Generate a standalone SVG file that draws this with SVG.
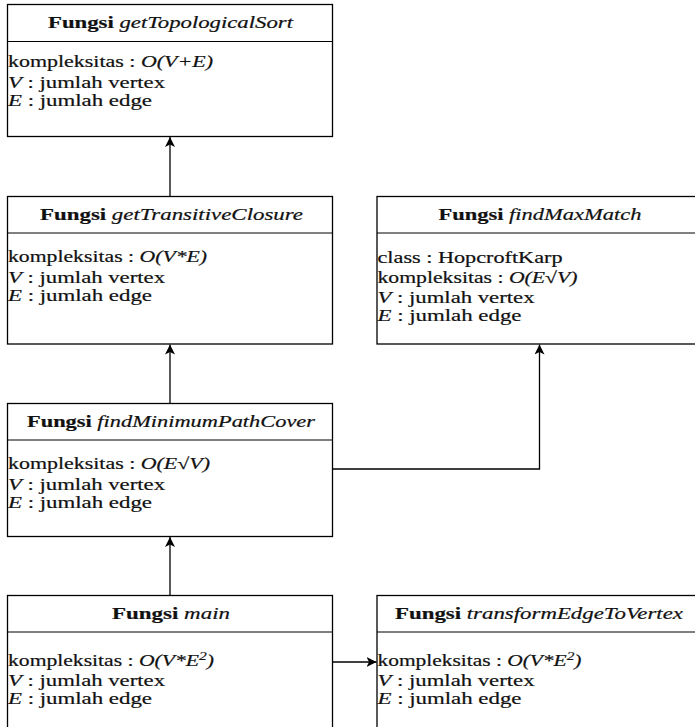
<svg xmlns="http://www.w3.org/2000/svg" width="695" height="727" viewBox="0 0 695 727">
  <style>
    .box { fill: #ffffff; stroke: #000000; stroke-width: 1.3; }
    .sep { stroke: #000000; stroke-width: 1; }
    .txt { font-family: "Liberation Serif", "DejaVu Serif", serif; font-size: 16px; fill: #111111; stroke: #111111; stroke-width: 0.2; }
    .hd { text-anchor: middle; font-size: 16.5px; }
    .b { font-weight: bold; }
    .i { font-style: italic; }
    .sup { font-size: 11.5px; }
    .edge { fill: none; stroke: #000000; stroke-width: 1.3; }
  </style>
  <defs>
    <marker id="arrow" viewBox="0 0 10 10" refX="10" refY="5" markerWidth="10" markerHeight="10" markerUnits="userSpaceOnUse" orient="auto">
      <path d="M0,0 L10,5 L0,10 L2.5,5 Z" fill="#000000"/>
    </marker>
  </defs>

  <rect width="695" height="727" fill="#ffffff"/>

  <g id="connectors">
    <path class="edge" d="M170,196.5 L170,137" marker-end="url(#arrow)"/>
    <path class="edge" d="M170,403.5 L170,344.5" marker-end="url(#arrow)"/>
    <path class="edge" d="M170,595.5 L170,537" marker-end="url(#arrow)"/>
    <path class="edge" d="M332.5,469 L539.5,469 L539.5,344.5" marker-end="url(#arrow)"/>
    <path class="edge" d="M332.5,662 L376.5,662" marker-end="url(#arrow)"/>
  </g>

  <g id="getTopologicalSort">
    <rect class="box" x="7.5" y="4.5" width="325" height="132"/>
    <line class="sep" x1="7.5" y1="41.5" x2="332.5" y2="41.5"/>
    <text class="txt hd" x="170.5" y="28" textLength="245" lengthAdjust="spacingAndGlyphs"><tspan class="b">Fungsi</tspan> <tspan class="i">getTopologicalSort</tspan></text>
    <text class="txt" x="8" y="67" textLength="205" lengthAdjust="spacingAndGlyphs">kompleksitas : <tspan class="i">O(V+E)</tspan></text>
    <text class="txt" x="8" y="87.5" textLength="157" lengthAdjust="spacingAndGlyphs"><tspan class="i">V</tspan> : jumlah vertex</text>
    <text class="txt" x="8" y="105.5" textLength="144" lengthAdjust="spacingAndGlyphs"><tspan class="i">E</tspan> : jumlah edge</text>
  </g>

  <g id="getTransitiveClosure">
    <rect class="box" x="7.5" y="196.5" width="325" height="147.5"/>
    <line class="sep" x1="7.5" y1="233" x2="332.5" y2="233"/>
    <text class="txt hd" x="171.5" y="220" textLength="263" lengthAdjust="spacingAndGlyphs"><tspan class="b">Fungsi</tspan> <tspan class="i">getTransitiveClosure</tspan></text>
    <text class="txt" x="8" y="261.5" textLength="199" lengthAdjust="spacingAndGlyphs">kompleksitas : <tspan class="i">O(V*E)</tspan></text>
    <text class="txt" x="8" y="282.5" textLength="157" lengthAdjust="spacingAndGlyphs"><tspan class="i">V</tspan> : jumlah vertex</text>
    <text class="txt" x="8" y="300.5" textLength="144" lengthAdjust="spacingAndGlyphs"><tspan class="i">E</tspan> : jumlah edge</text>
  </g>

  <g id="findMaxMatch">
    <rect class="box" x="377" y="196.5" width="325" height="147.5"/>
    <line class="sep" x1="377" y1="233" x2="702" y2="233"/>
    <text class="txt hd" x="540" y="220" textLength="203" lengthAdjust="spacingAndGlyphs"><tspan class="b">Fungsi</tspan> <tspan class="i">findMaxMatch</tspan></text>
    <text class="txt" x="377.5" y="262.5" textLength="185" lengthAdjust="spacingAndGlyphs">class : HopcroftKarp</text>
    <text class="txt" x="377.5" y="283" textLength="200" lengthAdjust="spacingAndGlyphs">kompleksitas : <tspan class="i">O(E√V)</tspan></text>
    <text class="txt" x="377.5" y="302.5" textLength="157" lengthAdjust="spacingAndGlyphs"><tspan class="i">V</tspan> : jumlah vertex</text>
    <text class="txt" x="377.5" y="320.5" textLength="144" lengthAdjust="spacingAndGlyphs"><tspan class="i">E</tspan> : jumlah edge</text>
  </g>

  <g id="findMinimumPathCover">
    <rect class="box" x="7.5" y="403.5" width="325" height="133"/>
    <line class="sep" x1="7.5" y1="440" x2="332.5" y2="440"/>
    <text class="txt hd" x="171" y="427" textLength="288" lengthAdjust="spacingAndGlyphs"><tspan class="b">Fungsi</tspan> <tspan class="i">findMinimumPathCover</tspan></text>
    <text class="txt" x="8" y="468.5" textLength="202" lengthAdjust="spacingAndGlyphs">kompleksitas : <tspan class="i">O(E√V)</tspan></text>
    <text class="txt" x="8" y="489.5" textLength="157" lengthAdjust="spacingAndGlyphs"><tspan class="i">V</tspan> : jumlah vertex</text>
    <text class="txt" x="8" y="507.5" textLength="144" lengthAdjust="spacingAndGlyphs"><tspan class="i">E</tspan> : jumlah edge</text>
  </g>

  <g id="main">
    <rect class="box" x="7.5" y="595.5" width="325" height="140"/>
    <line class="sep" x1="7.5" y1="632" x2="332.5" y2="632"/>
    <text class="txt hd" x="171" y="619" textLength="118" lengthAdjust="spacingAndGlyphs"><tspan class="b">Fungsi</tspan> <tspan class="i">main</tspan></text>
    <text class="txt" x="8" y="666" textLength="206" lengthAdjust="spacingAndGlyphs">kompleksitas : <tspan class="i">O(V*E<tspan class="sup" dy="-6">2</tspan><tspan dy="6">)</tspan></tspan></text>
    <text class="txt" x="8" y="686" textLength="157" lengthAdjust="spacingAndGlyphs"><tspan class="i">V</tspan> : jumlah vertex</text>
    <text class="txt" x="8" y="704" textLength="144" lengthAdjust="spacingAndGlyphs"><tspan class="i">E</tspan> : jumlah edge</text>
  </g>

  <g id="transformEdgeToVertex">
    <rect class="box" x="377" y="595.5" width="325" height="140"/>
    <line class="sep" x1="377" y1="632" x2="702" y2="632"/>
    <text class="txt hd" x="539" y="619" textLength="288" lengthAdjust="spacingAndGlyphs"><tspan class="b">Fungsi</tspan> <tspan class="i">transformEdgeToVertex</tspan></text>
    <text class="txt" x="377.5" y="666" textLength="204" lengthAdjust="spacingAndGlyphs">kompleksitas : <tspan class="i">O(V*E<tspan class="sup" dy="-6">2</tspan><tspan dy="6">)</tspan></tspan></text>
    <text class="txt" x="377.5" y="686" textLength="157" lengthAdjust="spacingAndGlyphs"><tspan class="i">V</tspan> : jumlah vertex</text>
    <text class="txt" x="377.5" y="704" textLength="144" lengthAdjust="spacingAndGlyphs"><tspan class="i">E</tspan> : jumlah edge</text>
  </g>
</svg>
